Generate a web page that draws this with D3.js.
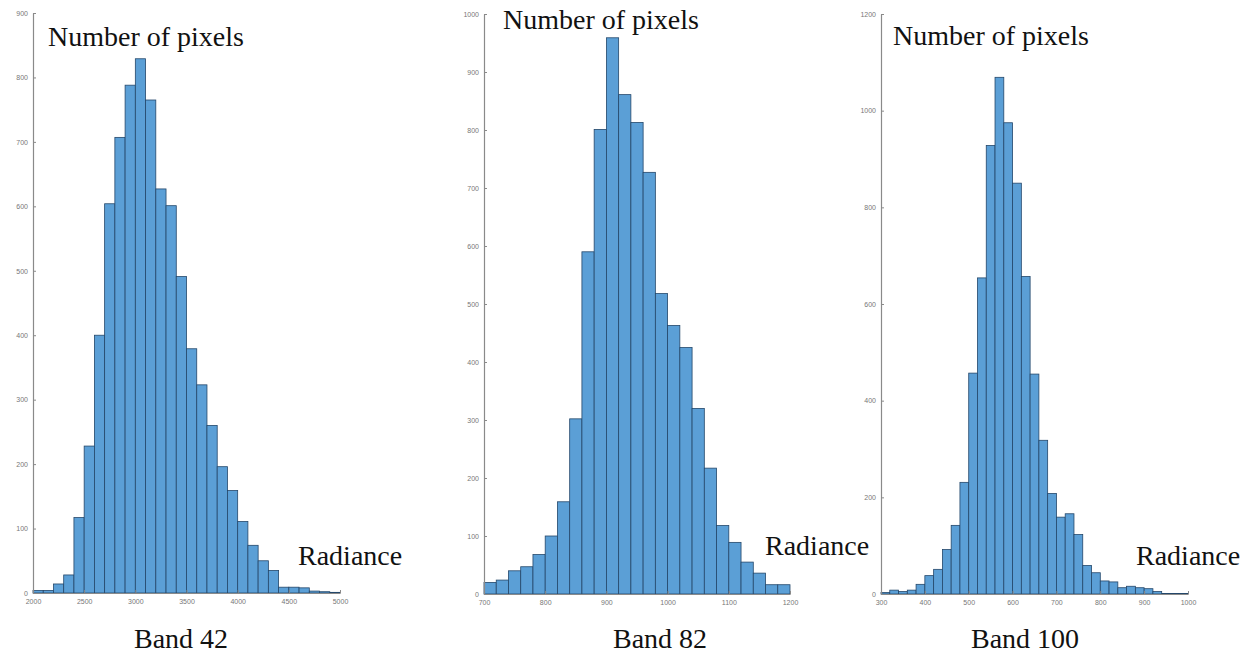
<!DOCTYPE html>
<html>
<head>
<meta charset="utf-8">
<script src="https://cdn.jsdelivr.net/npm/d3@7"></script>
<style>
  html, body { margin: 0; padding: 0; background: #fff; }
  svg { display: block; }
  .tick text { font-family: "Liberation Sans", Arial, sans-serif; font-size: 7px; fill: #777; }
  .lbl { font-family: "Liberation Serif", "Times New Roman", serif; font-size: 28px; fill: #111; }
</style>
</head>
<body>
<svg id="chart" width="1256" height="656"></svg>
<script>
// ---- Data ----
const band42Edges = [2000,2100,2200,2300,2400,2500,2600,2700,2800,2900,3000,3100,3200,3300,3400,3500,3600,3700,3800,3900,4000,4100,4200,4300,4400,4500,4600,4700,4800,4900];
const band42Counts = [4,4,14,28,117,228,400,604,707,788,829,765,627,601,491,379,323,260,196,159,111,74,50,35,9,9,8,3,2,1];
const band42XTicks = [2000,2500,3000,3500,4000,4500,5000];
const band42YTicks = [0,100,200,300,400,500,600,700,800,900];

const band82Edges = [700,720,740,760,780,800,820,840,860,880,900,920,940,960,980,1000,1020,1040,1060,1080,1100,1120,1140,1160,1180];
const band82Counts = [20,24,40,47,68,100,159,302,590,801,959,861,813,727,518,463,425,320,217,118,89,55,36,16,16];
const band82XTicks = [700,800,900,1000,1100,1200];
const band82YTicks = [0,100,200,300,400,500,600,700,800,900,1000];

const band100Edges = [300,320,340,360,380,400,420,440,460,480,500,520,540,560,580,600,620,640,660,680,700,720,740,760,780,800,820,840,860,880,900,920,940,960,980];
const band100Counts = [3,8,5,8,20,38,51,92,142,231,457,654,928,1069,975,850,657,455,318,208,159,166,123,59,44,27,25,13,16,13,11,5,1,1,1];
const band100XTicks = [300,400,500,600,700,800,900,1000];
const band100YTicks = [0,200,400,600,800,1000,1200];

const panelTitles = ["Band 42", "Band 82", "Band 100"];
const yLabel = "Number of pixels";
const xLabel = "Radiance";

// ---- Layout (pixels) ----
const panels = [
  { edges: band42Edges, counts: band42Counts, xt: band42XTicks, yt: band42YTicks,
    xDom: [2000, 5000], yDom: [0, 900], x0: 33, x1: 340, y0: 593, y1: 13, bw: 100,
    yLab: [48, 46], xLab: [298, 565], tLab: [134, 648] },
  { edges: band82Edges, counts: band82Counts, xt: band82XTicks, yt: band82YTicks,
    xDom: [700, 1200], yDom: [0, 1000], x0: 484, x1: 790, y0: 594, y1: 14, bw: 20,
    yLab: [503, 29], xLab: [765, 555], tLab: [613, 648] },
  { edges: band100Edges, counts: band100Counts, xt: band100XTicks, yt: band100YTicks,
    xDom: [300, 1000], yDom: [0, 1200], x0: 881, x1: 1188, y0: 594, y1: 14, bw: 20,
    yLab: [893, 45], xLab: [1136, 565], tLab: [971, 648] }
];

const svg = d3.select("#chart");

panels.forEach((p, i) => {
  const x = d3.scaleLinear().domain(p.xDom).range([p.x0, p.x1]);
  const y = d3.scaleLinear().domain(p.yDom).range([p.y0, p.y1]);
  const g = svg.append("g");

  // bars
  g.selectAll("rect.bar")
    .data(p.edges.map((e, k) => ({ e, c: p.counts[k] })))
    .join("rect")
    .attr("class", "bar")
    .attr("x", d => x(d.e))
    .attr("width", d => x(d.e + p.bw) - x(d.e))
    .attr("y", d => y(d.c))
    .attr("height", d => y(0) - y(d.c))
    .attr("fill", "#5b9fd6")
    .attr("stroke", "#24476a")
    .attr("stroke-width", 0.8);

  // y axis
  const ya = g.append("g")
    .attr("transform", `translate(${p.x0},0)`)
    .call(d3.axisLeft(y).tickValues(p.yt).tickSizeInner(-3).tickSizeOuter(0).tickPadding(5).tickFormat(d3.format("d")));
  // x axis
  const xa = g.append("g")
    .attr("transform", `translate(0,${p.y0})`)
    .call(d3.axisBottom(x).tickValues(p.xt).tickSizeInner(-3).tickSizeOuter(0).tickPadding(6).tickFormat(d3.format("d")));
  [ya, xa].forEach(a => {
    a.select(".domain").attr("stroke", "#8a8a8a").attr("stroke-width", 1.2);
    a.selectAll(".tick line").attr("stroke", "#8a8a8a");
  });

  // labels
  svg.append("text").attr("class", "lbl").attr("x", p.yLab[0]).attr("y", p.yLab[1]).text(yLabel);
  svg.append("text").attr("class", "lbl").attr("x", p.xLab[0]).attr("y", p.xLab[1]).text(xLabel);
  svg.append("text").attr("class", "lbl").attr("x", p.tLab[0]).attr("y", p.tLab[1]).text(panelTitles[i]);
});
</script>
</body>
</html>
